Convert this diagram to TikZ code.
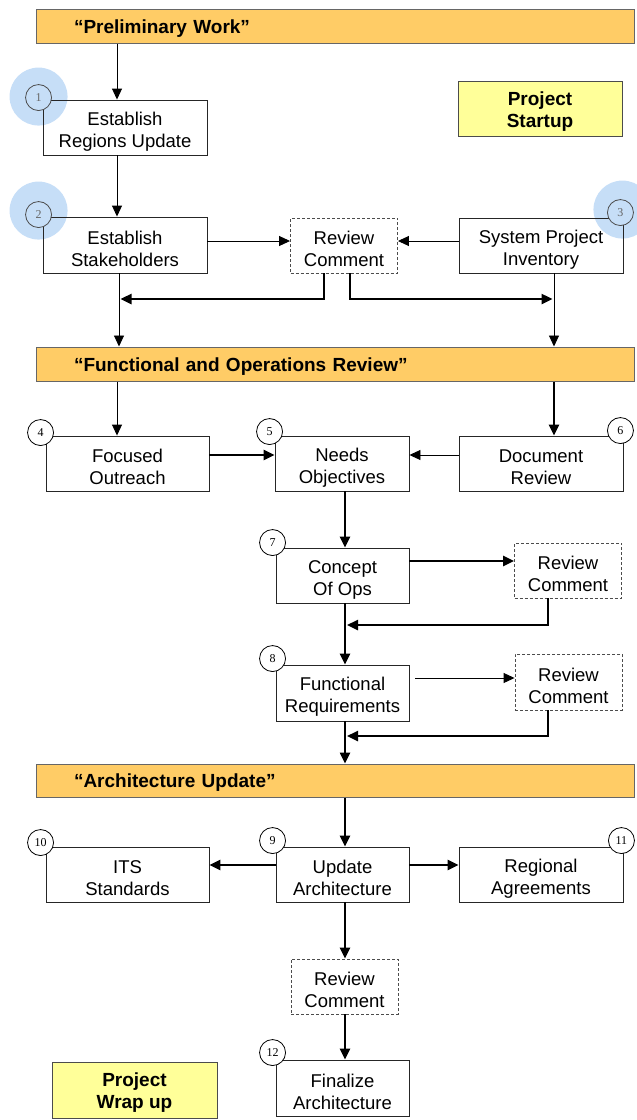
\documentclass[tikz,border=0pt]{standalone}
\usepackage{fontspec}
\setmainfont{Liberation Sans}
\newfontfamily\numfont{Liberation Serif}
\usetikzlibrary{arrows.meta, calc, backgrounds}
\definecolor{bannerfill}{HTML}{FFCC66}
\definecolor{notefill}{HTML}{FFFF99}
\definecolor{halo}{HTML}{C6DEF7}

\begin{document}
\begin{tikzpicture}[x=1pt, y=-1pt]
\tikzset{every node/.style={font=\fontsize{18.5}{22}\selectfont, align=center, inner sep=0pt},
  box/.style={rectangle, text height=43pt, draw=black!85, line width=0.9pt, minimum width=#1, minimum height=55pt}, box/.default=133pt,
  rcbox/.style={rectangle, text height=43pt, draw=black!70, dash pattern=on 3pt off 2pt, line width=0.9pt, minimum width=107pt, minimum height=55pt},
  banner/.style={rectangle, text height=18pt, draw=black!60, line width=1pt, fill=bannerfill, minimum height=34pt, text width=522pt, inner xsep=38pt, align=left, font=\fontsize{19}{22}\selectfont\bfseries},
  note/.style={rectangle, text height=41pt, draw=black!70, line width=1pt, fill=notefill, minimum width=#1, minimum height=55pt, font=\fontsize{19}{22}\selectfont\bfseries},
  num/.style={circle, draw=black, line width=0.8pt, fill=white, minimum size=26pt, font=\numfont\fontsize{12}{12}\selectfont},
  numhalo/.style={num, draw=black!70, fill=halo, text=black!60},
  thinarr/.style={line width=0.9pt, -{Triangle[length=11pt, width=10pt]}},
  thickarr/.style={line width=2.4pt, -{Triangle[length=11pt, width=10pt]}}}

% Normalize bounding box
\useasboundingbox (0,0) rectangle (637,1120);

% Project startup
\node[banner] (B1) at (335,26) {“Preliminary Work”};
\node[note=164pt] (PS) at (540,108.5) {Project\\Startup};
\node[box=164pt] (ERU) at (125,127.5) {Establish\\Regions Update};
\node[box=164pt, minimum height=56pt] (ES) at (125,245) {Establish\\Stakeholders};
\node[rcbox] (RC1) at (344,245.5) {Review\\Comment};
\node[box=164pt] (SPI) at (541,245.5) {System Project\\Inventory};

% Functional and operations review
\node[banner] (B2) at (335,364) {“Functional and Operations Review”};
\node[box=163pt] (FO) at (127.5,463.5) {Focused\\Outreach};
\node[box=134pt] (NO) at (342,463.5) {Needs\\Objectives};
\node[box=164pt] (DR) at (541,463.5) {Document\\Review};
\node[box] (COO) at (342.5,575.5) {Concept\\Of Ops};
\node[rcbox] (RC2) at (568,570.5) {Review\\Comment};
\node[box, minimum height=56pt] (FR) at (342.5,693) {Functional\\Requirements};
\node[rcbox, minimum height=56pt] (RC3) at (568.5,682) {Review\\Comment};

% Architecture update
\node[banner, minimum height=33pt] (B3) at (335,780.5) {“Architecture Update”};
\node[box=163pt] (ITS) at (127.5,874.5) {ITS\\Standards};
\node[box] (UA) at (342.5,874.5) {Update\\Architecture};
\node[box=164pt] (RA) at (541,874.5) {Regional\\Agreements};
\node[rcbox] (RC4) at (344.5,986.5) {Review\\Comment};
\node[box, minimum height=56pt] (FA) at (342.5,1088) {Finalize\\Architecture};
\node[note=165pt, minimum height=56pt] (PWU) at (134.5,1090) {Project\\Wrap up};

% Step numbers
\node[numhalo] (N1) at ($(ERU.north west)+(-4,-2)$) {1};
\node[numhalo] (N2) at ($(ES.north west)+(-4,-2)$) {2};
\node[numhalo] (N3) at ($(SPI.north east)+(-3,-5)$) {3};
\node[num] (N4) at ($(FO.north west)+(-5,-3)$) {4};
\node[num] (N5) at ($(NO.north west)+(-5,-4)$) {5};
\node[num] (N6) at ($(DR.north east)+(-3,-5)$) {6};
\node[num] (N7) at ($(COO.north west)+(-3,-5)$) {7};
\node[num] (N8) at ($(FR.north west)+(-3,-6)$) {8};
\node[num] (N9) at ($(UA.north west)+(-3,-6)$) {9};
\node[num] (N10) at ($(ITS.north west)+(-5,-4)$) {10};
\node[num] (N11) at ($(RA.north east)+(-2,-6)$) {11};
\node[num] (N12) at ($(FA.north west)+(-3,-7)$) {12};
\begin{scope}[on background layer]
\fill[halo] ($(N1)+(0,-1)$) circle[radius=29pt];
\fill[halo] ($(N2)+(0,-4)$) circle[radius=29pt];
\fill[halo] ($(N3)+(2,-3)$) circle[radius=29pt];
\end{scope}

% Columns and joints
\coordinate (xL) at (117,0);
\coordinate (xC) at (345,0);
\coordinate (xR) at (554,0);
\coordinate (xRC) at (548,0);
\coordinate (J1) at (120.5,299);
\coordinate (J2) at (552.5,299);
\coordinate (J3) at (347,625);
\coordinate (J4) at (347,736);

\draw[thinarr] (B1.south -| xL) -- (ERU.north -| xL);
\draw[thinarr] (ERU.south -| xL) -- (ES.north -| xL);
\draw[thinarr] (ES.east |- 0,241) -- (RC1.west |- 0,241);
\draw[thinarr] (SPI.west |- 0,241) -- (RC1.east |- 0,241);
\draw[thickarr] ([xshift=-20pt]RC1.south) |- (J1);
\draw[thickarr] ([xshift=6pt]RC1.south) |- (J2);
\draw[thinarr] ([xshift=-6pt]ES.south) -- ([xshift=-6pt]ES.south |- B2.north);
\draw[thinarr] (SPI.south -| xR) -- (B2.north -| xR);

\draw[thinarr] (B2.south -| xL) -- (FO.north -| xL);
\draw[thickarr] (B2.south -| xR) -- (DR.north -| xR);
\draw[thickarr] (FO.east |- 0,455) -- (NO.west |- 0,455);
\draw[thinarr] (DR.west |- 0,455) -- (NO.east |- 0,455);
\draw[thickarr] (NO.south -| xC) -- (COO.north -| xC);
\draw[thickarr] (COO.east |- 0,561) -- (RC2.west |- 0,561);
\draw[thickarr] (RC2.south -| xRC) |- (J3);
\draw[thickarr] (COO.south -| xC) -- (FR.north -| xC);
\draw[thinarr] ([xshift=6pt]FR.east |- 0,678) -- (RC3.west |- 0,678);
\draw[thickarr] (RC3.south -| xRC) |- (J4);
\draw[thickarr] (FR.south -| xC) -- (B3.north -| xC);

\draw[thickarr] (B3.south -| xC) -- (UA.north -| xC);
\draw[thickarr] (UA.west |- 0,865) -- (ITS.east |- 0,865);
\draw[thickarr] (UA.east |- 0,865) -- (RA.west |- 0,865);
\draw[thickarr] (UA.south -| xC) -- (RC4.north -| xC);
\draw[thickarr] (RC4.south -| xC) -- (FA.north -| xC);

\end{tikzpicture}
\end{document}
